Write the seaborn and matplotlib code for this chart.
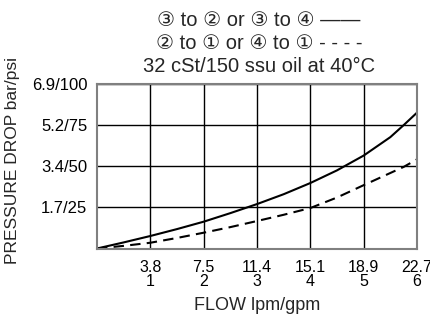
import matplotlib
matplotlib.use("Agg")
import numpy as np
import pandas as pd
import matplotlib.pyplot as plt
import seaborn as sns

# flow in gpm, pressure drop in psi
flow_gpm = [0, 0.5, 1, 1.5, 2, 2.5, 3, 3.5, 4, 4.5, 5, 5.5, 5.75, 6]
drop_3to2 = [0, 3.7, 7.6, 11.8, 16.3, 21.5, 27, 33, 39.8, 47.5, 56.5, 67.7, 75, 82.6]
drop_2to1 = [0, 1.6, 3.5, 6.4, 9.6, 13, 16.7, 20.5, 24.6, 31, 38.5, 45.9, 49.6, 54.2]

x_ticks = [1, 2, 3, 4, 5, 6]
x_labels = ["3.8\n1", "7.5\n2", "11.4\n3", "15.1\n4", "18.9\n5", "22.7\n6"]
y_ticks = [25, 50, 75, 100]
y_labels = ["1.7/25", "3.4/50", "5.2/75", "6.9/100"]

title_lines = [
    "\u2462 to \u2461 or \u2462 to \u2463 \u2014\u2014",
    "\u2461 to \u2460 or \u2463 to \u2460 - - - -",
    "32 cSt/150 ssu oil at 40\u00b0C",
]

sns.set_style("white")
plt.rcParams['font.family'] = ['Liberation Sans', 'DejaVu Sans']

df = pd.DataFrame({
    'flow': flow_gpm * 2,
    'drop': drop_3to2 + drop_2to1,
    'path': ['solid'] * len(flow_gpm) + ['dashed'] * len(flow_gpm),
})

fig = plt.figure(figsize=(4.31, 3.17), dpi=100)
ax = fig.add_axes([97 / 431, (317 - 248.5) / 317, 320 / 431, 164.5 / 317])

sns.lineplot(data=df[df['path'] == 'solid'], x='flow', y='drop', ax=ax,
             color='black', lw=1.5, estimator=None, sort=True)
sns.lineplot(data=df[df['path'] == 'dashed'], x='flow', y='drop', ax=ax,
             color='black', lw=1.5, estimator=None, sort=True,
             linestyle=(0, (5, 3)))

ax.set_xlim(0, 6)
ax.set_ylim(0, 100)
ax.set_xticks(x_ticks)
ax.set_xticklabels(x_labels, fontsize=11.5, linespacing=0.95)
ax.set_yticks(y_ticks)
ax.set_yticklabels(y_labels, fontsize=12)
ax.tick_params(axis='both', length=0, colors='black')
ax.tick_params(axis='x', pad=8)
ax.tick_params(axis='y', pad=7)
ax.set_xlabel('')
ax.set_ylabel('')
ax.grid(True, color='black', lw=1)
ax.set_axisbelow(True)
for s in ax.spines.values():
    s.set_color('#808080')
    s.set_linewidth(1.5)

for i, line in enumerate(title_lines):
    fig.text(259 / 431, 1 - (20 + 23.5 * i) / 317, line, ha='center', va='center',
             fontsize=14.5)

fig.text(257 / 431, 1 - 305 / 317, 'FLOW lpm/gpm', ha='center', va='center', fontsize=13)
fig.text(13 / 431, 1 - 160 / 317, 'PRESSURE DROP bar/psi', ha='center', va='center',
         rotation=90, fontsize=12.5)

fig.savefig('out.png', dpi=100)
